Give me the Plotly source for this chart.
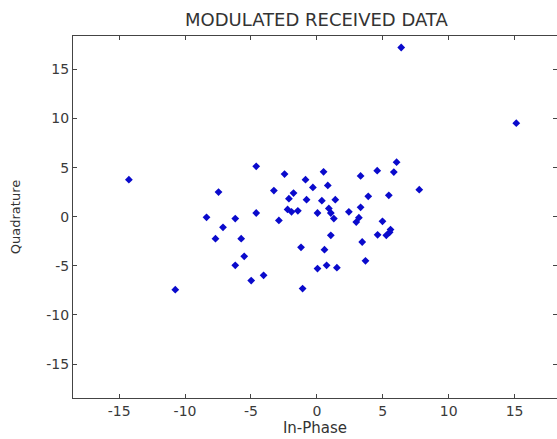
import plotly.graph_objects as go

in_phase = [
    -14.26, -10.74, -4.60, -2.45, -0.86, -7.46, -3.26, -2.12, -1.77, -0.78,
    -8.37, -6.19, -4.60, -2.88, -2.22, -1.92, -1.44, -7.12, -7.69, -5.74,
    -1.20, -5.51, -6.19, -4.04, -4.98, -1.08, 6.40, 15.13, 6.05, 4.58,
    5.84, 0.51, 3.32, -0.30, 0.83, 7.77, 3.90, 5.46, 0.38, 1.40,
    0.91, 1.06, 0.05, 2.43, 3.32, 1.29, 3.19, 2.99, 4.98, 5.59,
    5.52, 4.61, 5.27, 1.06, 3.44, 0.58, 3.69, 0.74, 0.05, 1.52,
]
quadrature = [
    3.77, -7.42, 5.13, 4.34, 3.77, 2.51, 2.66, 1.84, 2.41, 1.74,
    -0.06, -0.19, 0.38, -0.37, 0.75, 0.50, 0.60, -1.08, -2.23, -2.23,
    -3.11, -4.03, -4.94, -5.96, -6.50, -7.31, 17.23, 9.53, 5.56, 4.69,
    4.55, 4.57, 4.16, 2.99, 3.19, 2.76, 2.08, 2.18, 1.64, 1.74,
    0.85, 0.38, 0.38, 0.50, 0.96, -0.19, -0.09, -0.54, -0.47, -1.31,
    -1.59, -1.84, -1.89, -1.89, -2.57, -3.35, -4.49, -4.94, -5.28, -5.18,
]
tick_vals = [-15, -10, -5, 0, 5, 10, 15]
tick_text = ["-15", "-10", "-5", "0", "5", "10", "15"]

FONT = "DejaVu Sans, Arial"

fig = go.Figure(go.Scatter(
    x=in_phase, y=quadrature, mode="markers",
    marker=dict(symbol="diamond", size=6, color="#0a0acc", line=dict(width=0)),
    hoverinfo="x+y",
))

axis_common = dict(
    showgrid=False, zeroline=False, showline=True, linecolor="#444444", linewidth=1,
    mirror="allticks", ticks="inside", ticklen=4, tickcolor="#444444",
    tickvals=tick_vals, ticktext=tick_text,
    tickfont=dict(family=FONT, size=14, color="#3a3a3a"),
)

fig.update_layout(
    width=557, height=439,
    margin=dict(l=73, r=0, t=36, b=41),
    paper_bgcolor="white", plot_bgcolor="white",
    showlegend=False,
    title=dict(text="MODULATED RECEIVED DATA", x=0.568, xanchor="center",
               y=1 - 20 / 439, yanchor="middle",
               font=dict(family=FONT, size=18, color="#333333")),
    xaxis=dict(range=[-18.5, 18.22], title=dict(text="In-Phase", standoff=1,
               font=dict(family=FONT, size=15, color="#333333")),
               **axis_common),
    yaxis=dict(range=[-18.45, 18.4], title=dict(text="Quadrature", standoff=22,
               font=dict(family=FONT, size=13, color="#333333")),
               **axis_common),
)

fig.write_html("out.html")
